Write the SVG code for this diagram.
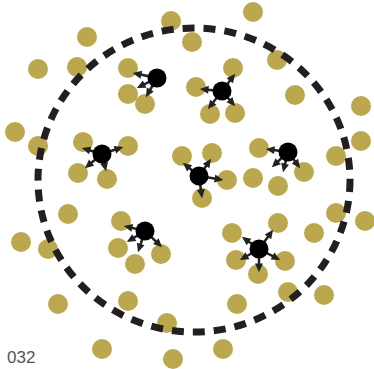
<svg xmlns="http://www.w3.org/2000/svg" width="374" height="369" viewBox="0 0 374 369">
<style>
.g{fill:#BBA84E}
.b{fill:#000}
.a{stroke:#222;stroke-width:2.5;fill:none;marker-end:url(#ah)}
.ring{fill:none;stroke:#231F20;stroke-width:7;stroke-dasharray:12 9}
.lbl{font-family:"Liberation Sans",Arial,sans-serif;font-size:17px;fill:#555}
</style>
<defs>
<marker id="ah" markerUnits="userSpaceOnUse" markerWidth="10" markerHeight="10" viewBox="-5 -5 10 10" refX="0" refY="0" orient="auto">
<path d="M-4.5,-4 L4.2,0 L-4.5,4 z" fill="#222"/>
</marker>
</defs>
<rect width="374" height="369" fill="#fff"/>
<g id="particles">
<circle id="p1" class="g" cx="171" cy="21" r="10"/>
<circle id="p2" class="g" cx="253" cy="12" r="10"/>
<circle id="p3" class="g" cx="87" cy="37" r="10"/>
<circle id="p4" class="g" cx="192" cy="42" r="10"/>
<circle id="p5" class="g" cx="38" cy="69" r="10"/>
<circle id="p6" class="g" cx="77" cy="67" r="10"/>
<circle id="p7" class="g" cx="128" cy="68" r="10"/>
<circle id="p8" class="g" cx="277" cy="60" r="10"/>
<circle id="p9" class="g" cx="233" cy="68" r="10"/>
<circle id="p10" class="g" cx="196" cy="87" r="10"/>
<circle id="p11" class="g" cx="128" cy="94" r="10"/>
<circle id="p12" class="g" cx="145" cy="104" r="10"/>
<circle id="p13" class="g" cx="295" cy="95" r="10"/>
<circle id="p14" class="g" cx="210" cy="114" r="10"/>
<circle id="p15" class="g" cx="235" cy="113" r="10"/>
<circle id="p16" class="g" cx="361" cy="106" r="10"/>
<circle id="p17" class="g" cx="15" cy="132" r="10"/>
<circle id="p18" class="g" cx="38" cy="146" r="10"/>
<circle id="p19" class="g" cx="83" cy="142" r="10"/>
<circle id="p20" class="g" cx="128" cy="146" r="10"/>
<circle id="p21" class="g" cx="182" cy="156" r="10"/>
<circle id="p22" class="g" cx="212" cy="153" r="10"/>
<circle id="p23" class="g" cx="259" cy="148" r="10"/>
<circle id="p24" class="g" cx="361" cy="141" r="10"/>
<circle id="p25" class="g" cx="336" cy="156" r="10"/>
<circle id="p26" class="g" cx="78" cy="173" r="10"/>
<circle id="p27" class="g" cx="107" cy="179" r="10"/>
<circle id="p28" class="g" cx="227" cy="180" r="10"/>
<circle id="p29" class="g" cx="253" cy="178" r="10"/>
<circle id="p30" class="g" cx="278" cy="186" r="10"/>
<circle id="p31" class="g" cx="304" cy="172" r="10"/>
<circle id="p32" class="g" cx="202" cy="198" r="10"/>
<circle id="p33" class="g" cx="68" cy="214" r="10"/>
<circle id="p34" class="g" cx="121" cy="221" r="10"/>
<circle id="p35" class="g" cx="278" cy="223" r="10"/>
<circle id="p36" class="g" cx="336" cy="213" r="10"/>
<circle id="p37" class="g" cx="365" cy="221" r="10"/>
<circle id="p38" class="g" cx="21" cy="242" r="10"/>
<circle id="p39" class="g" cx="48" cy="249" r="10"/>
<circle id="p40" class="g" cx="118" cy="248" r="10"/>
<circle id="p41" class="g" cx="161" cy="254" r="10"/>
<circle id="p42" class="g" cx="232" cy="233" r="10"/>
<circle id="p43" class="g" cx="314" cy="233" r="10"/>
<circle id="p44" class="g" cx="135" cy="264" r="10"/>
<circle id="p45" class="g" cx="236" cy="260" r="10"/>
<circle id="p46" class="g" cx="285" cy="261" r="10"/>
<circle id="p47" class="g" cx="258" cy="274" r="10"/>
<circle id="p48" class="g" cx="288" cy="292" r="10"/>
<circle id="p49" class="g" cx="324" cy="295" r="10"/>
<circle id="p50" class="g" cx="58" cy="304" r="10"/>
<circle id="p51" class="g" cx="128" cy="301" r="10"/>
<circle id="p52" class="g" cx="237" cy="304" r="10"/>
<circle id="p53" class="g" cx="167" cy="323" r="10"/>
<circle id="p54" class="g" cx="223" cy="349" r="10"/>
<circle id="p55" class="g" cx="102" cy="349" r="10"/>
<circle id="p56" class="g" cx="173" cy="359" r="10"/>
</g>
<ellipse id="boundary" class="ring" cx="194" cy="180" rx="156" ry="152"/>
<g id="connectors">
<line class="a" x1="157" y1="78" x2="136.9" y2="73.8"/>
<line class="a" x1="157" y1="78" x2="140.6" y2="86.2"/>
<line class="a" x1="157" y1="78" x2="148" y2="93.5"/>
<line class="a" x1="222" y1="91" x2="232.6" y2="77.2"/>
<line class="a" x1="222" y1="91" x2="204" y2="89.4"/>
<line class="a" x1="222" y1="91" x2="210.5" y2="105.8"/>
<line class="a" x1="222" y1="91" x2="232.4" y2="103"/>
<line class="a" x1="102" y1="154" x2="85.8" y2="149.2"/>
<line class="a" x1="102" y1="154" x2="119.2" y2="148.3"/>
<line class="a" x1="102" y1="154" x2="88.1" y2="165.5"/>
<line class="a" x1="102" y1="154" x2="105.1" y2="167.1"/>
<line class="a" x1="199" y1="176" x2="186.1" y2="165.5"/>
<line class="a" x1="199" y1="176" x2="208.7" y2="162.3"/>
<line class="a" x1="199" y1="176" x2="219.1" y2="179.3"/>
<line class="a" x1="199" y1="176" x2="201.5" y2="194"/>
<line class="a" x1="288" y1="152" x2="270" y2="149.5"/>
<line class="a" x1="288" y1="152" x2="274.9" y2="164.3"/>
<line class="a" x1="288" y1="152" x2="284" y2="168.1"/>
<line class="a" x1="288" y1="152" x2="297.6" y2="164.8"/>
<line class="a" x1="145" y1="231" x2="127.9" y2="226.9"/>
<line class="a" x1="145" y1="231" x2="130.4" y2="239.9"/>
<line class="a" x1="145" y1="231" x2="139.3" y2="248.2"/>
<line class="a" x1="145" y1="231" x2="159.1" y2="244.3"/>
<line class="a" x1="259" y1="249" x2="245.3" y2="239.3"/>
<line class="a" x1="259" y1="249" x2="270.6" y2="233.2"/>
<line class="a" x1="259" y1="249" x2="243.5" y2="258"/>
<line class="a" x1="259" y1="249" x2="259" y2="268"/>
<line class="a" x1="259" y1="249" x2="276.5" y2="258.1"/>
</g>
<g id="node-a"><circle class="b" cx="157" cy="78" r="9.5"/></g>
<g id="node-b"><circle class="b" cx="222" cy="91" r="9.5"/></g>
<g id="node-c"><circle class="b" cx="102" cy="154" r="9.5"/></g>
<g id="node-d"><circle class="b" cx="199" cy="176" r="9.5"/></g>
<g id="node-e"><circle class="b" cx="288" cy="152" r="9.5"/></g>
<g id="node-f"><circle class="b" cx="145" cy="231" r="9.5"/></g>
<g id="node-g"><circle class="b" cx="259" cy="249" r="9.5"/></g>
<text id="label" class="lbl" x="7" y="363">032</text>
</svg>
